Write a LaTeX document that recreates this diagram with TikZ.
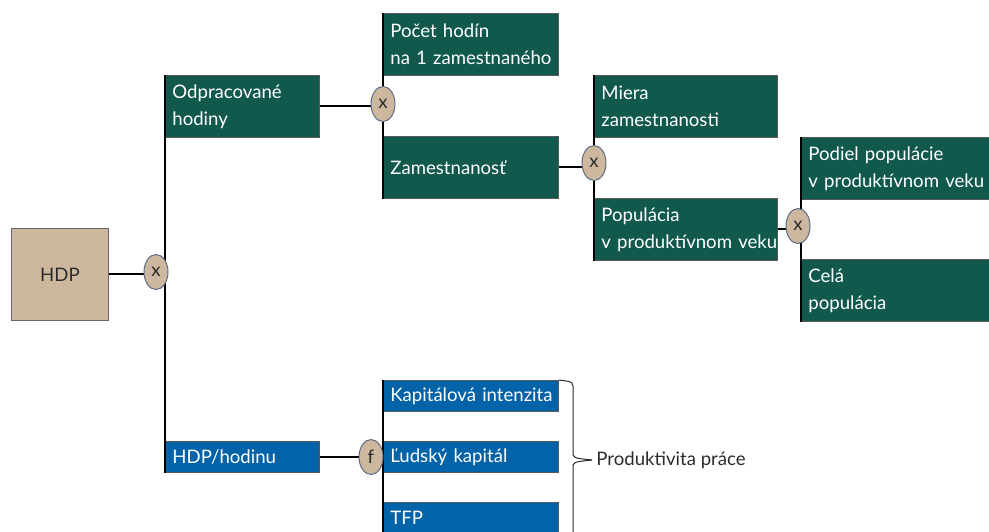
\documentclass[tikz,border=0pt]{standalone}
\usepackage{fontspec}
\setmainfont{Lato}
\usetikzlibrary{shapes.geometric}
\definecolor{treegreen}{HTML}{12594D}
\definecolor{treeblue}{HTML}{0263A8}
\definecolor{treetan}{HTML}{CDB89F}
\definecolor{treeedge}{HTML}{5B6B84}
\definecolor{treetext}{HTML}{2B2B2B}
\pgfdeclarelayer{front}
\pgfsetlayers{main,front}

\begin{document}
\begin{tikzpicture}[x=0.5pt,y=-0.5pt,
  every node/.style={font=\fontsize{9.3}{13.5}\selectfont},
  tbox/.style={draw=black!65, line width=0.4pt, anchor=north west,
    inner xsep=0pt, inner ysep=0pt, text width=#1, align=left, text=white,
    execute at begin node={\leftskip=3.5pt}},
  tall/.style={minimum height=31pt},
  short/.style={minimum height=15.5pt},
  greenbox/.style={tbox=#1, tall, fill=treegreen},
  bluebox/.style={tbox=#1, short, fill=treeblue},
  opnode/.style={ellipse, draw=treeedge, line width=0.5pt, fill=treetan,
    minimum width=12pt, minimum height=17.5pt, inner sep=0pt, text=treetext},
  link/.style={line width=1pt},
  bracket/.style={draw=treetext, line width=0.5pt}]
\useasboundingbox (0,0) rectangle (989,531);

% root
\node[draw=black!60, fill=treetan, anchor=north west, minimum width=48.5pt,
  minimum height=46pt, text=treetext] (hdp) at (11,228) {HDP};

% hours branch
\node[greenbox=77pt] (odp) at (165,75) {Odpracované\\hodiny};
\node[greenbox=87.5pt] (poc) at (383,13) {Počet hodín\\na 1 zamestnaného};
\node[greenbox=87.5pt] (zam) at (383,136) {Zamestnanosť};
\node[greenbox=91.5pt] (mie) at (594,75) {Miera\\zamestnanosti};
\node[greenbox=91.5pt] (pop) at (594,198) {Populácia\\v produktívnom veku};
\node[greenbox=100pt] (pod) at (801,137) {Podiel populácie\\v produktívnom veku};
\node[greenbox=100pt] (cel) at (801,259) {Celá\\populácia};

% productivity branch
\node[bluebox=77pt] (hdph) at (165,441) {HDP/hodinu};
\node[bluebox=87.5pt] (kap) at (383,380) {Kapitálová intenzita};
\node[bluebox=87.5pt] (lud) at (383,441) {Ľudský kapitál};
\node[bluebox=87.5pt] (tfp) at (383,502) {TFP};
\node[anchor=west, text=treetext, inner xsep=2pt] (prod) at (592,460) {Produktivita práce};

% operators
\begin{pgfonlayer}{front}
\node[opnode] (m1) at (156,272) {x};
\node[opnode] (m2) at (383,104) {x};
\node[opnode] (m3) at (594,163) {x};
\node[opnode] (m4) at (798,226) {x};
\node[opnode] (f1) at (371,457) {f};
\end{pgfonlayer}

% links
\draw[link] (hdp.east) -- (hdp.east -| m1.west);
\draw[link] (odp.north west) -- (hdph.south west);
\draw[link] (odp.east) -- (odp.east -| m2.west);
\draw[link] (poc.north west) -- (zam.south west);
\draw[link] (zam.east) -- (zam.east -| m3.west);
\draw[link] (mie.north west) -- (pop.south west);
\draw[link] (pop.east) -- (pop.east -| m4.west);
\draw[link] (pod.north west) -- (cel.south west);
\draw[link] (hdph.east) -- (hdph.east -| f1.west);
\draw[link] (kap.north west) -- (tfp.south west);

% brace
\draw[bracket, rounded corners=2pt] (kap.north east) -- (573,382) -- (573,452);
\draw[bracket] (573,452) .. controls (573,458) .. (prod.west);
\draw[bracket] (prod.west) .. controls (573,462) .. (573,468) -- (573,545);
\end{tikzpicture}
\end{document}
